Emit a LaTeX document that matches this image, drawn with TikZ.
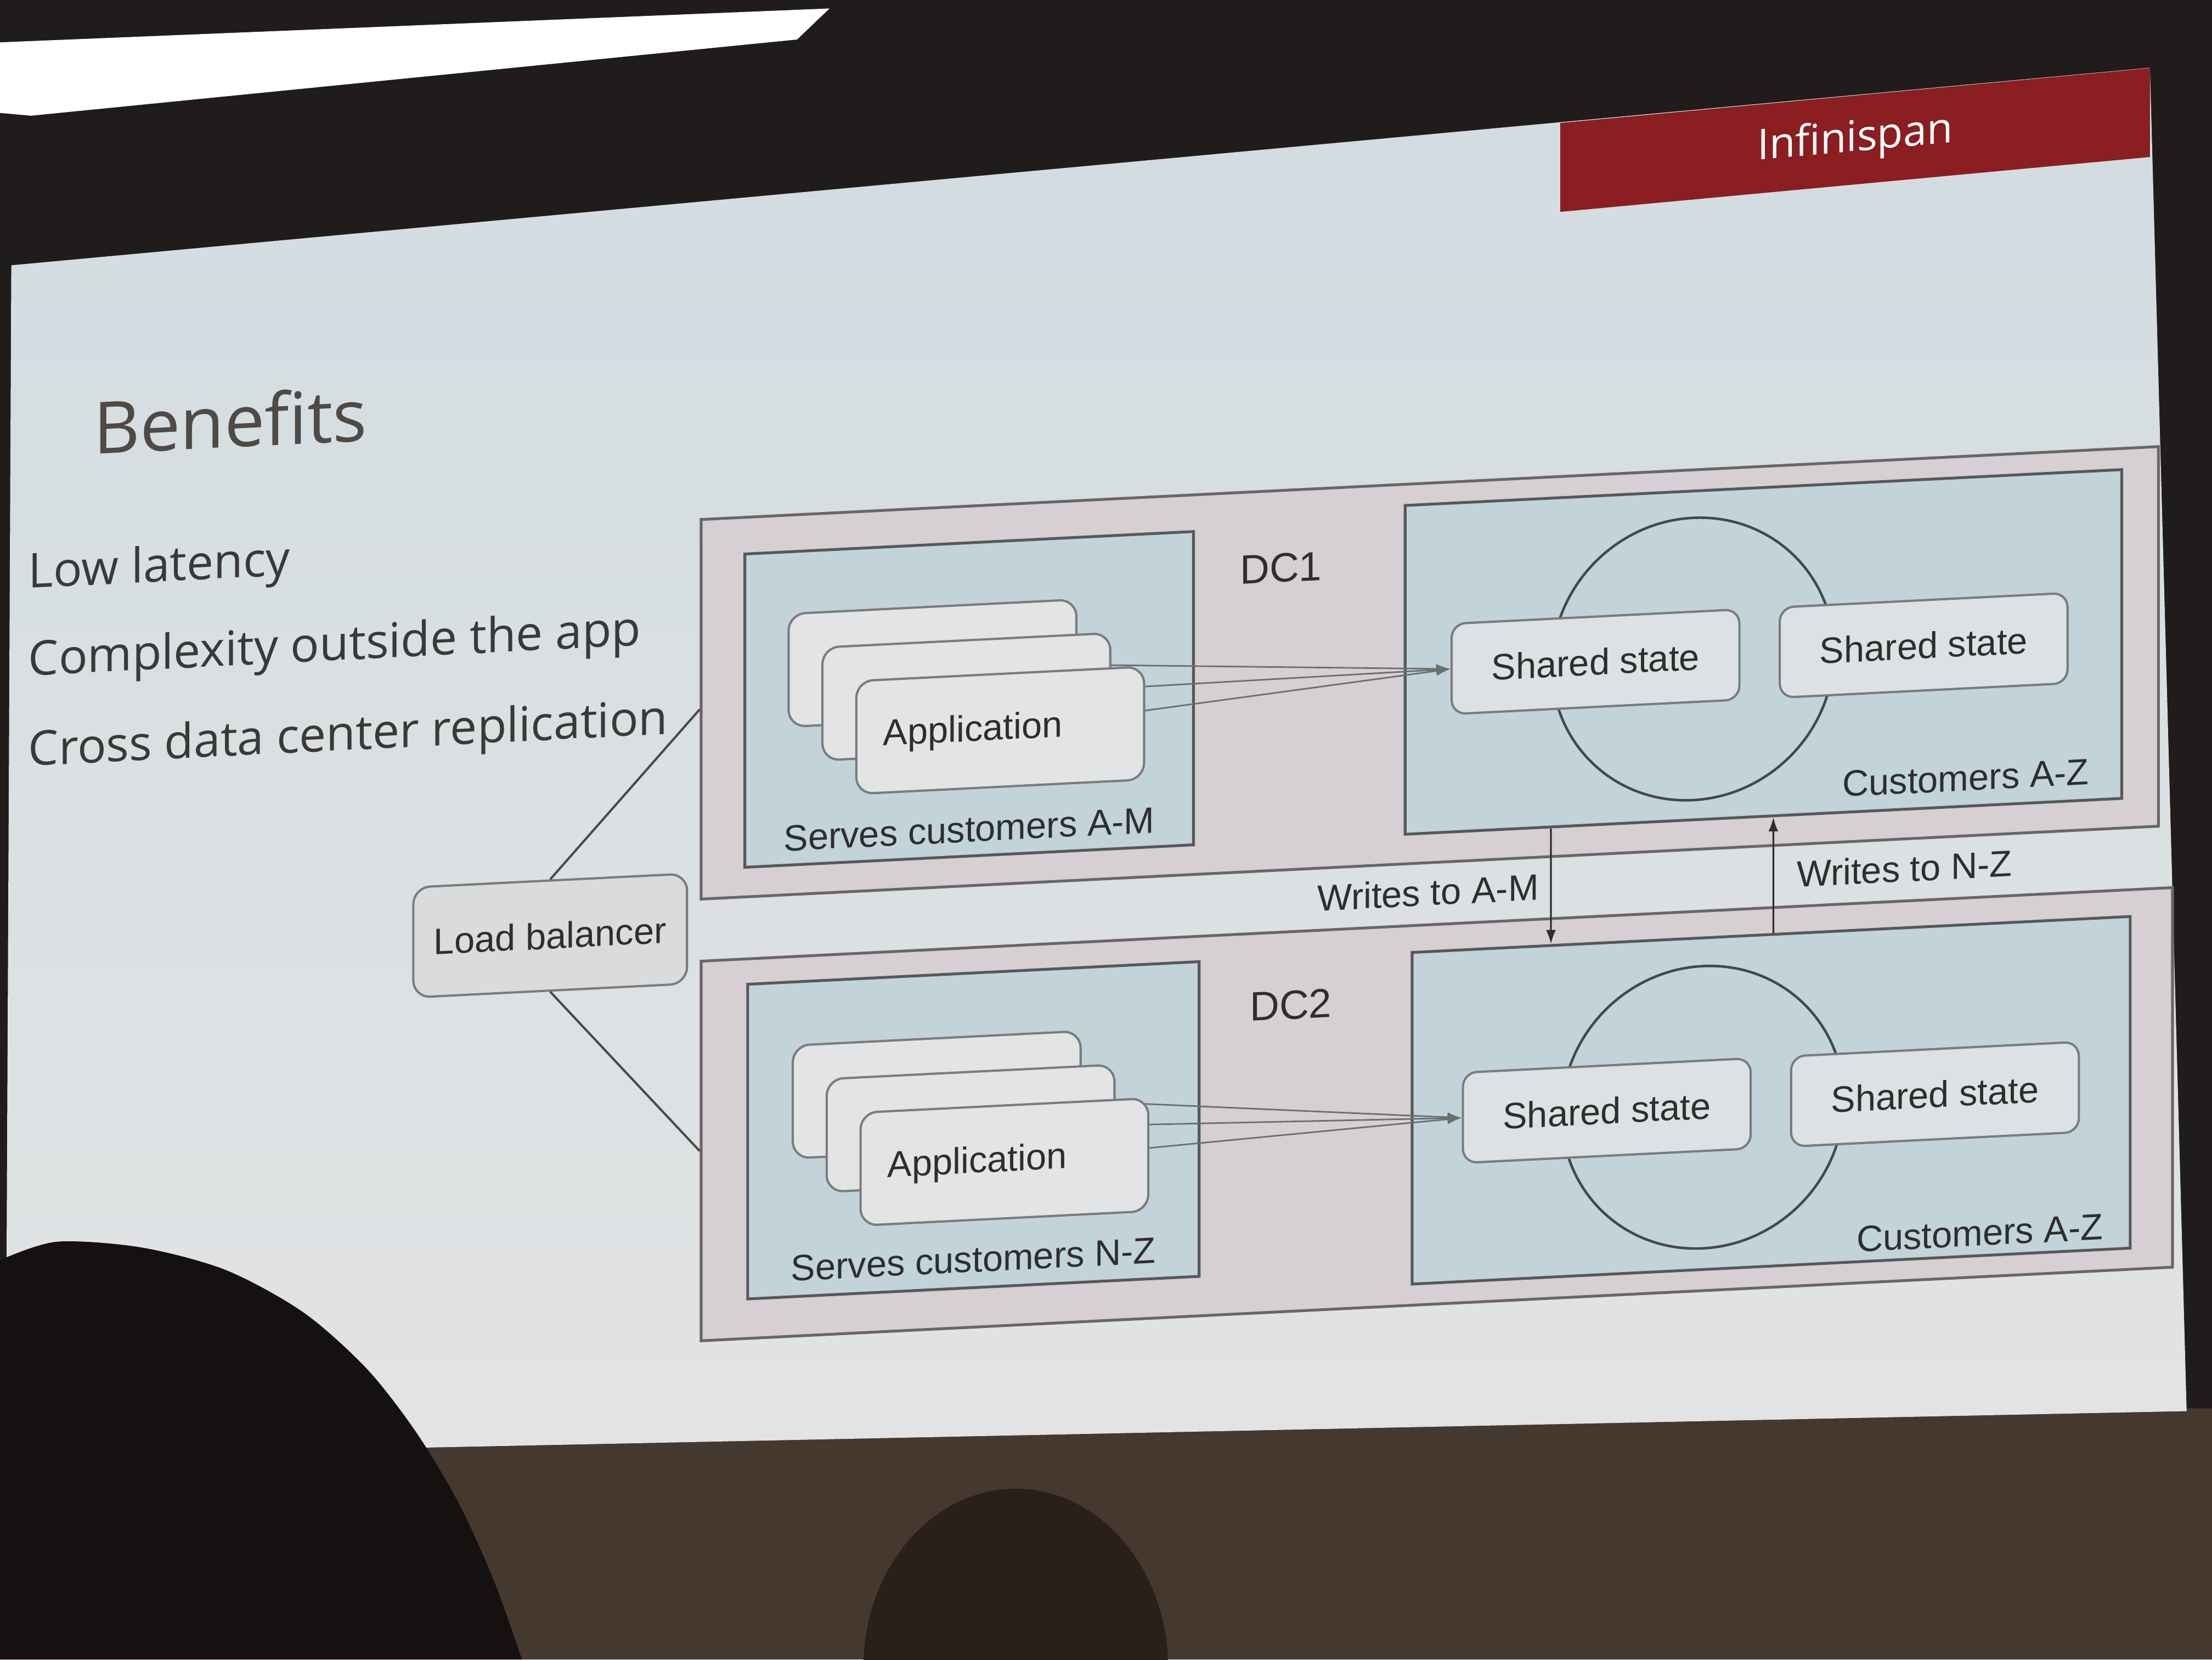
\documentclass[tikz,border=0pt]{standalone}
\usepackage{fontspec}
\setmainfont{Liberation Sans}
\newfontfamily\slidefont{Open Sans}
\usetikzlibrary{arrows.meta,positioning,calc}

\definecolor{roomdark}{HTML}{1F1C1B}
\definecolor{wallbrown}{HTML}{45382F}
\definecolor{slidetop}{HTML}{D2DCE1}
\definecolor{slidebot}{HTML}{E2E3E4}
\definecolor{headred}{HTML}{8A1E21}
\definecolor{dcfill}{HTML}{D6CFD3}
\definecolor{zonefill}{HTML}{C3D3DA}
\definecolor{boxline}{HTML}{6A6668}
\definecolor{zoneline}{HTML}{55595B}
\definecolor{appline}{HTML}{7A7C7E}
\definecolor{appfill}{HTML}{E3E4E5}
\definecolor{statefill}{HTML}{DCE1E3}
\definecolor{lbfill}{HTML}{D9DBDC}
\definecolor{ringline}{HTML}{45484A}
\definecolor{flowline}{HTML}{6C6F71}
\definecolor{wireline}{HTML}{4A4A4A}
\definecolor{ink}{HTML}{2E2E2E}
\definecolor{titleink}{HTML}{4F4A45}
\definecolor{bulletink}{HTML}{3A3938}
\definecolor{headdark}{HTML}{141110}
\definecolor{headbrown}{HTML}{2B2019}

\begin{document}
\begin{tikzpicture}[x=1pt,y=-1pt,>={Latex[length=10pt,width=7pt]},
    every node/.style={font=\fontsize{26}{31}\selectfont,text=ink,inner sep=0pt},
    dcbox/.style 2 args={draw=boxline,fill=dcfill,line width=2pt,minimum width=#1,minimum height=#2},
    zonebox/.style 2 args={draw=zoneline,fill=zonefill,line width=2pt,minimum width=#1,minimum height=#2},
    appbox/.style={draw=appline,fill=appfill,line width=1.6pt,rounded corners=12pt,minimum height=80pt,text width=166pt,inner xsep=19pt,align=left},
    statebox/.style={draw=appline,fill=statefill,line width=1.6pt,rounded corners=10pt,minimum width=204pt,minimum height=64pt},
    lbbox/.style={draw=appline,fill=lbfill,line width=1.6pt,rounded corners=12pt,minimum width=194pt,minimum height=78pt},
    ring/.style={circle,draw=ringline,line width=1.8pt,minimum size=200pt},
    dclabel/.style={font=\fontsize{29}{34}\selectfont},
    bullet/.style={anchor=west,font=\slidefont\fontsize{34}{41}\selectfont,text=bulletink},
    flow/.style={->,draw=flowline,line width=1.1pt},
    writes/.style={->,draw=ink,line width=1.3pt},
    wire/.style={draw=wireline,line width=1.6pt}]

\useasboundingbox (0,0) rectangle (1568,1176);

% room and screen
\fill[roomdark] (0,0) rectangle (1568,1176);
\fill[wallbrown] (0,1030) -- (1550,998) -- (1568,998) -- (1568,1176) -- (0,1176) -- cycle;
\fill[white] (0,30) -- (588,6) -- (565,28) -- (22,82) -- (0,80) -- cycle;
\shade[top color=slidetop,bottom color=slidebot] (8,188) -- (1524,48) -- (1550,1000) -- (4,1032) -- cycle;

\begin{scope}[yslant=0.093,transform shape]
    \node[fill=headred,minimum width=418pt,minimum height=63pt,font=\slidefont\fontsize{30}{36}\selectfont,text=white] (brand) at (1315,221.5) {Infinispan};
\end{scope}

\begin{scope}[yslant=0.05,transform shape]
    \node[anchor=west,font=\slidefont\fontsize{51}{60}\selectfont,text=titleink] (title) at (66,306) {Benefits};
    \node[bullet] (pt1) at (20,409) {Low latency};
    \node[bullet] (pt2) at (20,471) {Complexity outside the app};
    \node[bullet] (pt3) at (20,535) {Cross data center replication};

    % DC1
    \node[dcbox={1033pt}{269pt}] (dc1) at (1013.5,527.5) {};
    \node[zonebox={318pt}{222pt}] (apps1) at (687,530) {};
    \node[zonebox={508pt}{233pt}] (store1) at (1250,524.5) {};
    \node[dclabel] (dc1lbl) at (908,448) {DC1};
    \node[ring] (ring1) at (1200,527) {};
    \node[statebox] (ss11) at (1131,525.5) {Shared state};
    \node[statebox,right=27pt of ss11] (ss12) {Shared state};
    \node[anchor=east] (cust1) at (1481,621) {Customers A-Z};
    \node (serve1) at (687,622) {Serves customers A-M};
    \coordinate (st10) at (661,503);
    \coordinate (st11) at (685,528);
    \coordinate (st12) at (709,553);
    \draw[flow] (st10) -- (ss11.west);
    \draw[flow] (st11) -- (ss11.west);
    \draw[flow] (st12) -- (ss11.west);
    \node[appbox] (app10) at (st10) {};
    \node[appbox] (app11) at (st11) {};
    \node[appbox] (app12) at (st12) {Application};

    % DC2
    \node[dcbox={1043pt}{269pt}] (dc2) at (1018.5,840.5) {};
    \node[zonebox={320pt}{223pt}] (apps2) at (690,835.5) {};
    \node[zonebox={509pt}{235pt}] (store2) at (1255.5,842.5) {};
    \node[dclabel] (dc2lbl) at (915,758) {DC2};
    \node[ring] (ring2) at (1207,845) {};
    \node[statebox] (ss21) at (1139,844) {Shared state};
    \node[statebox,right=27pt of ss21] (ss22) {Shared state};
    \node[anchor=east] (cust2) at (1491,944) {Customers A-Z};
    \node (serve2) at (690,927) {Serves customers N-Z};
    \coordinate (st20) at (664,809);
    \coordinate (st21) at (688,834);
    \coordinate (st22) at (712,859);
    \draw[flow] (st20) -- (ss21.west);
    \draw[flow] (st21) -- (ss21.west);
    \draw[flow] (st22) -- (ss21.west);
    \node[appbox] (app20) at (st20) {};
    \node[appbox] (app21) at (st21) {};
    \node[appbox] (app22) at (st22) {Application};

    % load balancer and replication
    \node[lbbox] (lb) at (390,682.5) {Load balancer};
    \draw[wire] (lb.north) -- (dc1.west);
    \draw[wire] (lb.south) -- (dc2.west);
    \draw[writes] ($(store1.south west)!0.2047!(store1.south east)$) -- ($(store2.north west)!0.1945!(store2.north east)$)
        node[midway,left=8pt] {Writes to A-M};
    \draw[writes] ($(store2.north west)!0.503!(store2.north east)$) -- ($(store1.south west)!0.5138!(store1.south east)$)
        node[midway,right=16pt] {Writes to N-Z};
\end{scope}

% audience
\fill[headdark] plot[smooth] coordinates {(0,893) (40,880) (100,884) (160,900) (215,930) (260,970) (295,1015) (325,1065) (350,1120) (370,1176)} -- (0,1176) -- cycle;
\fill[headbrown] (720,1182) ellipse [x radius=108pt,y radius=127pt];
\end{tikzpicture}
\end{document}
